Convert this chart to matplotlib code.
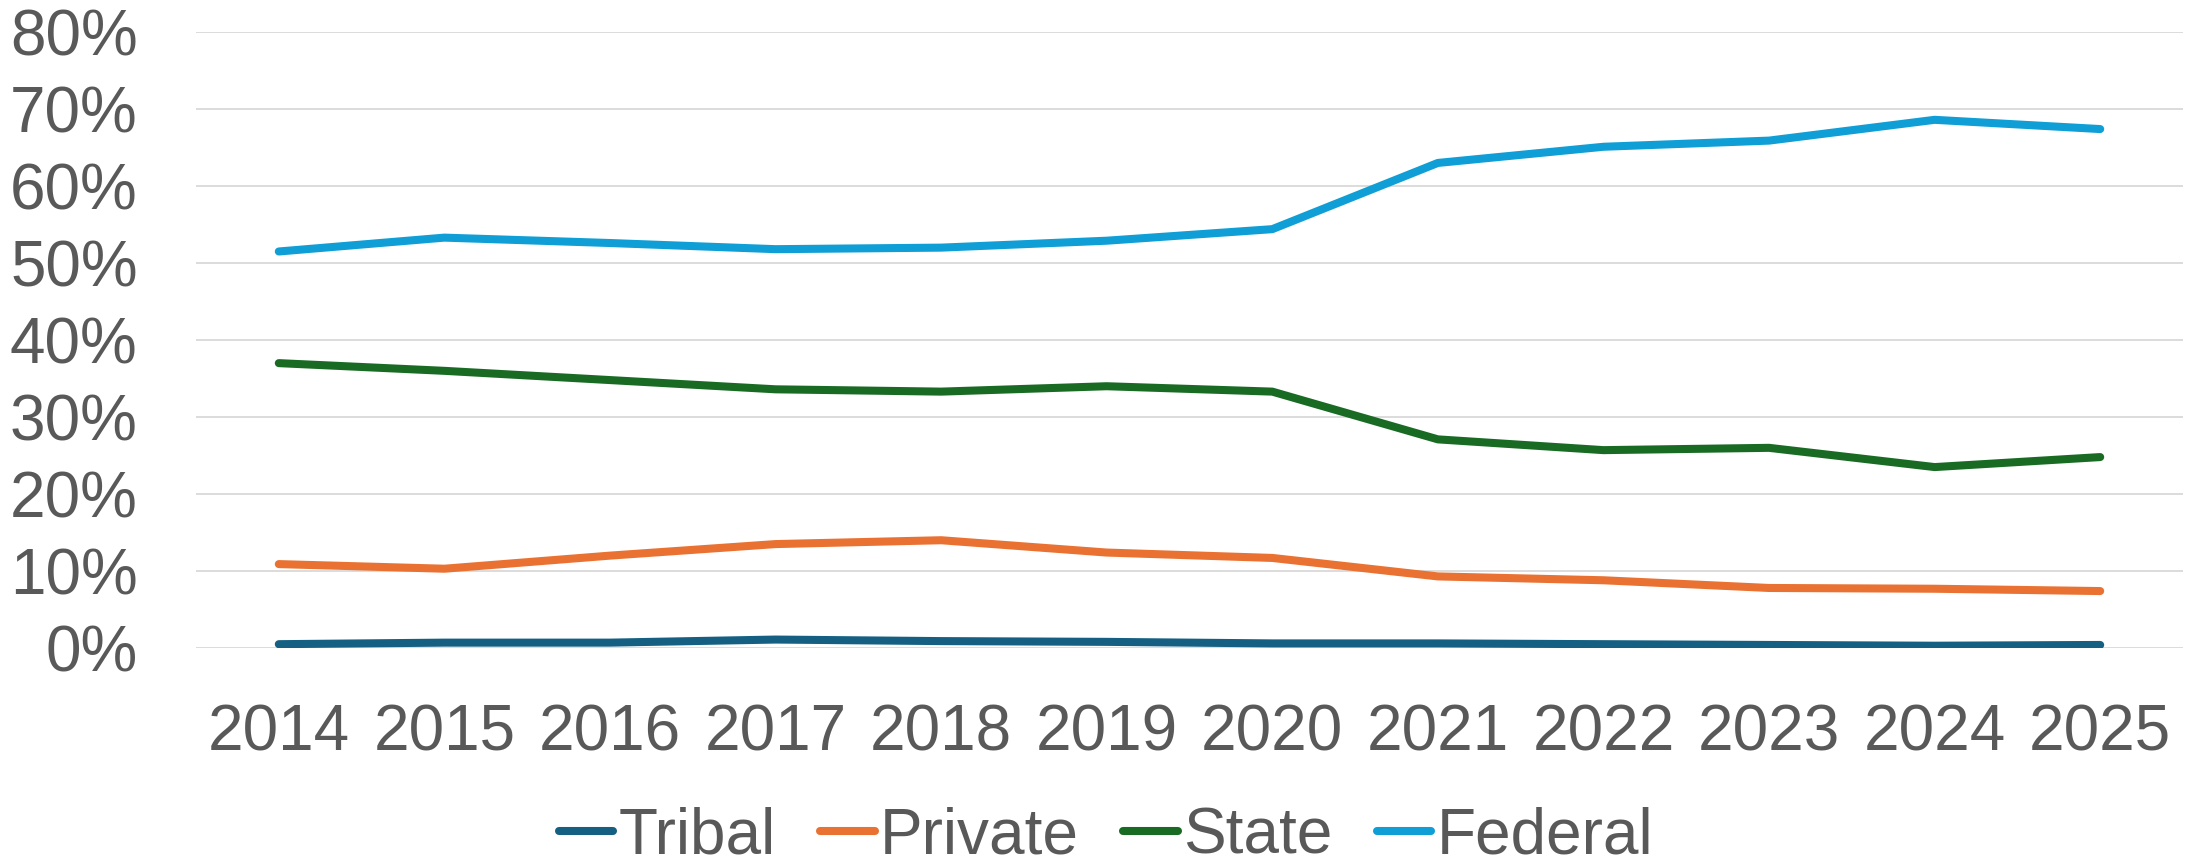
import matplotlib
matplotlib.use("Agg")
import matplotlib.pyplot as plt
import matplotlib.ticker as ticker
import numpy as np

# ── Data (share of total) ───────────────────────────────────────────────────
years = ["2014", "2015", "2016", "2017", "2018", "2019",
         "2020", "2021", "2022", "2023", "2024", "2025"]

tribal  = [0.005, 0.007, 0.007, 0.011, 0.009, 0.008, 0.006, 0.006, 0.005, 0.004, 0.003, 0.004]
private = [0.109, 0.103, 0.120, 0.135, 0.140, 0.124, 0.117, 0.093, 0.088, 0.078, 0.077, 0.074]
state   = [0.370, 0.360, 0.348, 0.336, 0.333, 0.340, 0.333, 0.271, 0.257, 0.260, 0.235, 0.248]
federal = [0.515, 0.533, 0.526, 0.518, 0.520, 0.529, 0.544, 0.630, 0.651, 0.659, 0.686, 0.674]

series_names  = ["Tribal", "Private", "State", "Federal"]
series_colors = ["#156082", "#E97132", "#196B24", "#0F9ED5"]

TEXT = "#595959"
plt.rcParams['font.family'] = ['Liberation Sans', 'DejaVu Sans']

fig = plt.figure(figsize=(21.9, 8.66), dpi=100)
ax = fig.add_axes([0.0895, 0.2517, 0.9073, 0.7113])

x = np.arange(len(years))
for name, vals, col in zip(series_names, [tribal, private, state, federal], series_colors):
    ax.plot(x, vals, color=col, linewidth=5.8, solid_capstyle='round',
            solid_joinstyle='round', label=name)

ax.set_xlim(-0.5, len(years) - 0.5)
ax.set_ylim(0, 0.8)
ax.yaxis.set_major_locator(ticker.MultipleLocator(0.1))
ax.yaxis.set_major_formatter(ticker.FuncFormatter(lambda v, p: f"{v*100:.0f}%"))
ax.set_xticks(x)
ax.set_xticklabels(years)

# light horizontal gridlines only, no spines (Excel look)
ax.grid(True, axis='y', color='#D9D9D9', linewidth=1.3)
ax.set_axisbelow(True)
for s in ax.spines.values():
    s.set_visible(False)
ax.tick_params(axis='both', length=0, labelsize=46, labelcolor=TEXT)
ax.tick_params(axis='y', pad=42)
ax.tick_params(axis='x', pad=40)

fig.legend(loc='center', bbox_to_anchor=(0.505, 0.034), ncol=4, frameon=False,
           fontsize=46, labelcolor=TEXT, handlelength=0.85, handletextpad=0.08,
           columnspacing=0.7)

plt.savefig("out.png", dpi=100)
